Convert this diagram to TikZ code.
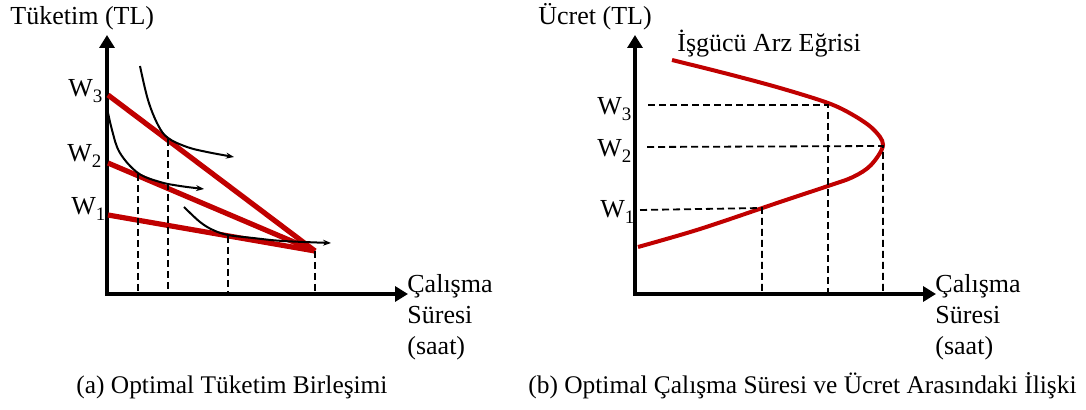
\documentclass[tikz,border=0pt]{standalone}
\usepackage{fontspec}
\setmainfont{Liberation Serif}
\usetikzlibrary{arrows.meta}
\definecolor{wred}{HTML}{C00000}
\newcommand\Wl[1]{W\raisebox{-0.45ex}{\fontsize{9.5}{10}\selectfont #1}}
\begin{document}
\begin{tikzpicture}[x=0.5pt,y=-0.5pt,
  font=\fontsize{13}{15.5}\selectfont,
  axis/.style={line width=2pt,line join=miter,{Triangle[length=6.5pt,width=7.5pt]}-{Triangle[length=6.5pt,width=7.5pt]}},
  budget/.style={draw=wred,line width=2.6pt},
  supply/.style={draw=wred,line width=2pt},
  icurve/.style={line width=1pt,-{Stealth[length=4pt,width=3pt]}},
  guide/.style={line width=0.9pt,dash pattern=on 3.5pt off 2pt},
  lbl/.style={inner sep=0pt},
  caption/.style={inner sep=0pt,font=\fontsize{12.7}{15}\selectfont}]
\useasboundingbox (0,0) rectangle (1086,410);

% ---------------- left panel ----------------
\coordinate (Y1) at (107,35);
\coordinate (O1) at (107,294);
\coordinate (X1) at (408,294);
\draw[axis] (Y1) -- (O1) -- (X1);

\node[lbl,anchor=base west] (t1) at (10,25) {Tüketim (TL)};
\node[lbl,anchor=north west,align=left] (xl1) at (407,274) {Çalışma\\Süresi\\(saat)};

\node[lbl,anchor=base west] (lw3) at (68,97) {\Wl3};
\node[lbl,anchor=base west] (lw2) at (67,162) {\Wl2};
\node[lbl,anchor=base west] (lw1) at (71,215) {\Wl1};

\coordinate (a3) at (108,95);
\coordinate (a2) at (108,163);
\coordinate (a1) at (108,215);
\coordinate (E) at (315,251);
\draw[budget] (a1) -- (E);
\draw[budget] (a2) -- (E);
\draw[budget] (a3) -- (E);

% indifference curves
\draw[icurve] plot[smooth,tension=0.6] coordinates {(140,66) (148,100) (158,125) (168,138) (187,147) (207,152) (234,157)};
\draw[icurve] plot[smooth,tension=0.6] coordinates {(106,103) (112,130) (120,153) (138,173) (160,182) (180,186) (204,189)};
\draw[icurve] plot[smooth,tension=0.6] coordinates {(184,207) (200,222) (213,230) (228,235) (253,238) (283,241) (331,243)};

% tangency points and guides
\coordinate (p1) at (138,174);
\coordinate (p2) at (168,139);
\coordinate (p3) at (228,236);
\coordinate (q1) at (138,294);
\coordinate (q2) at (168,294);
\coordinate (q3) at (228,294);
\coordinate (q4) at (315,294);
\draw[guide] (p1) -- (q1);
\draw[guide] (p2) -- (q2);
\draw[guide] (p3) -- (q3);
\draw[guide] (E) -- (q4);

\node[caption,anchor=base west] (c1) at (76,394) {(a) Optimal Tüketim Birleşimi};

% ---------------- right panel ----------------
\coordinate (Y2) at (635,35);
\coordinate (O2) at (635,294);
\coordinate (X2) at (936,294);
\draw[axis] (Y2) -- (O2) -- (X2);

\node[lbl,anchor=base west] (t2) at (538,25) {Ücret (TL)};
\node[lbl,anchor=base west] (sl) at (677,52) {İşgücü Arz Eğrisi};
\node[lbl,anchor=north west,align=left] (xl2) at (935,274) {Çalışma\\Süresi\\(saat)};

\node[lbl,anchor=base west] (rw3) at (597,115) {\Wl3};
\node[lbl,anchor=base west] (rw2) at (597,157) {\Wl2};
\node[lbl,anchor=base west] (rw1) at (600,218) {\Wl1};

\draw[supply] plot[smooth,tension=0.55] coordinates {(672,60) (728,74) (780,88) (828,103) (853,115) (873,129) (883,145) (871,165) (853,177) (828,186) (780,202) (700,229) (638,247)};

\coordinate (h3) at (648,105);
\coordinate (s3) at (828,105);
\coordinate (h2) at (647,147);
\coordinate (s2) at (883,146);
\coordinate (h1) at (640,210);
\coordinate (s1) at (762,208);
\coordinate (b3) at (828,294);
\coordinate (b2) at (883,294);
\coordinate (b1) at (762,294);
\draw[guide] (h3) -- (s3) -- (b3);
\draw[guide] (h2) -- (s2) -- (b2);
\draw[guide] (h1) -- (s1) -- (b1);

\node[caption,anchor=base west] (c2) at (528,394) {(b) Optimal Çalışma Süresi ve Ücret Arasındaki İlişki};
\end{tikzpicture}
\end{document}
